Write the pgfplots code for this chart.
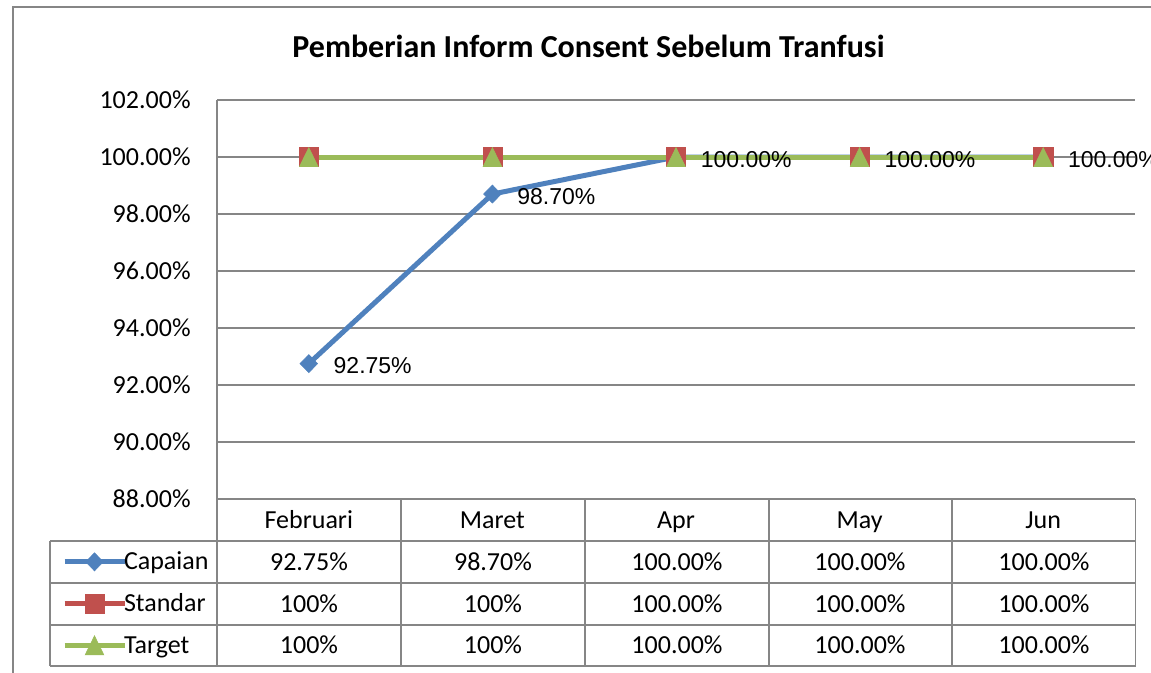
\documentclass[border=0pt]{standalone}
\usepackage{fontspec}
\setmainfont{Carlito}
\newfontfamily\arialf{Liberation Sans}
\usepackage{pgfplots}
\pgfplotsset{compat=1.18}
\definecolor{capblue}{HTML}{4F81BD}
\definecolor{stdred}{HTML}{C0504D}
\definecolor{tgtgreen}{HTML}{9BBB59}
\definecolor{gridgray}{HTML}{868686}
\newcommand{\tfont}{\fontsize{13}{15.5}\selectfont}
\begin{document}
\begin{tikzpicture}
\useasboundingbox (0,0) rectangle (575.5pt,-336.5pt);
\clip (0,0) rectangle (575.5pt,-336.5pt);
\begin{scope}[x=0.5pt,y=-0.5pt]
  \draw[gridgray, line width=0.75pt] (13,690) -- (13,7) -- (1170,7);
  \node[font=\fontsize{16}{19}\selectfont\bfseries, anchor=base, inner sep=0pt] at (588.5,58) {Pemberian Inform Consent Sebelum Tranfusi};
  % table grid
  \draw[gridgray, line width=0.6pt] (217,100) -- (217,666);
  \foreach \y in {541,583,625,666} \draw[gridgray,line width=0.6pt] (50,\y) -- (1135.5,\y);
  \draw[gridgray,line width=0.6pt] (50,541) -- (50,666);
  \foreach \x in {401,585,769,952,1135.5} \draw[gridgray,line width=0.6pt] (\x,499) -- (\x,666);
  % table values
  \foreach \x/\t in {309/92.75\%,493/98.70\%,677/100.00\%,860/100.00\%,1044/100.00\%}
    \node[font=\tfont, anchor=base, inner sep=0pt] at (\x,570) {\t};
  \foreach \x/\t in {309/100\%,493/100\%,677/100.00\%,860/100.00\%,1044/100.00\%}
    \node[font=\tfont, anchor=base, inner sep=0pt] at (\x,612) {\t};
  \foreach \x/\t in {309/100\%,493/100\%,677/100.00\%,860/100.00\%,1044/100.00\%}
    \node[font=\tfont, anchor=base, inner sep=0pt] at (\x,653.5) {\t};
\end{scope}
\begin{axis}[
  at={(108.5pt,-249.5pt)}, anchor=south west,
  scale only axis, width=459pt, height=199.5pt,
  xmin=-0.5, xmax=4.5, ymin=88, ymax=102,
  axis line style={draw=none},
  ymajorgrids, grid style={gridgray, line width=0.6pt},
  major tick length=0pt,
  ytick={88,90,...,102},
  /pgf/number format/assume math mode=true,
  yticklabel={\pgfmathprintnumber[fixed,fixed zerofill,precision=2]{\tick}\%},
  yticklabel style={font=\tfont, anchor=east, inner sep=0pt, xshift=-13pt},
  xtick={0,1,2,3,4}, xticklabels={Februari,Maret,Apr,May,Jun},
  xticklabel style={font=\tfont, anchor=base, inner sep=0pt, yshift=-14.5pt},
  clip=false,
  legend cell align=left,
  legend style={at={(-0.18192,-0.10526)}, anchor=north west, draw=none, fill=none,
    inner sep=0pt, outer sep=0pt, row sep=0pt,
    nodes={inner sep=0pt, outer sep=0pt, text height=14.4pt, text depth=6.45pt, font=\tfont},
    /tikz/every odd column/.style={column sep=-1.5pt}},
  legend image code/.code={
    \path (0pt,0pt);
    \draw[#1, mark repeat=2, mark phase=2] plot coordinates {(6pt,0pt) (21pt,0pt) (36pt,0pt)};
  },
]
\addplot[capblue, line width=2.5pt, mark=diamond*, mark size=4.5pt,
  mark options={solid, fill=capblue, draw=capblue, line width=0.3pt, xscale=1.3},
  nodes near coords={\pgfmathprintnumber[fixed,fixed zerofill,precision=2]{\pgfplotspointmeta}\%},
  nodes near coords style={anchor=west, inner sep=0pt, xshift=12.3pt, yshift=-1.2pt, text=black,
    font=\arialf\fontsize{11.5}{13.5}\selectfont}]
  coordinates {(0,92.75) (1,98.70) (2,100) (3,100) (4,100)};
\addlegendentry{Capaian}
\addplot[stdred, line width=2.5pt, mark=square*, mark size=4.8pt,
  mark options={solid, fill=stdred, draw=stdred, line width=0.3pt}]
  coordinates {(0,100) (1,100) (2,100) (3,100) (4,100)};
\addlegendentry{Standar}
\addplot[tgtgreen, line width=2.5pt, mark=triangle*, mark size=6.3pt,
  mark options={solid, fill=tgtgreen, draw=tgtgreen, line width=0.3pt, xscale=0.85, yshift=-1.6pt}]
  coordinates {(0,100) (1,100) (2,100) (3,100) (4,100)};
\addlegendentry{Target}
\end{axis}
\end{tikzpicture}
\end{document}
